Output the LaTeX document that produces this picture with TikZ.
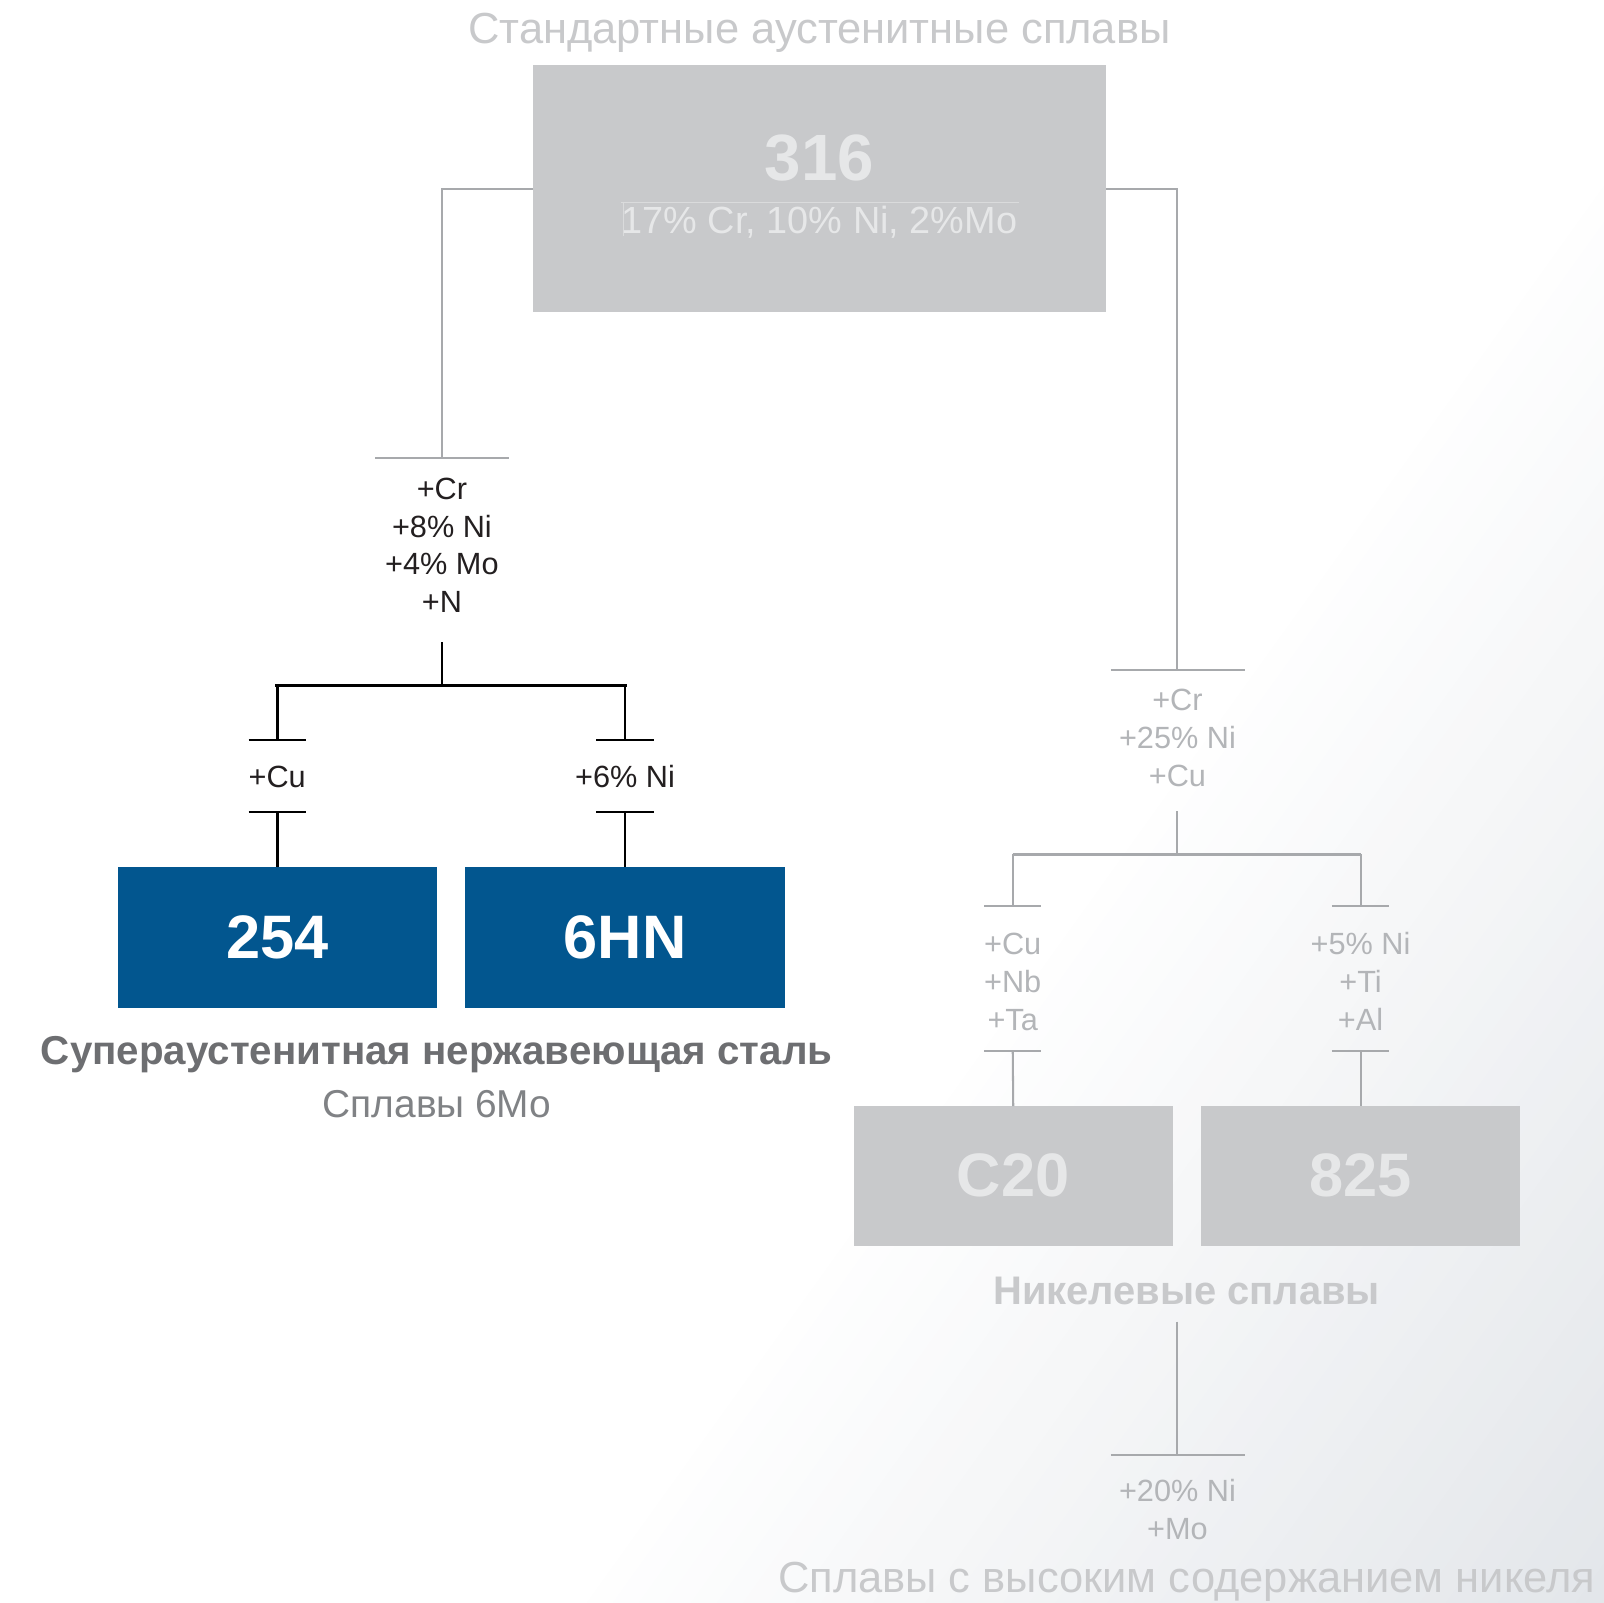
\documentclass[tikz,border=0pt]{standalone}
\usepackage{fontspec}
\setmainfont{Liberation Sans}
\definecolor{boxgray}{HTML}{C8C9CB}
\definecolor{boxtxt}{HTML}{E6E7E8}
\definecolor{blueb}{HTML}{02568F}
\definecolor{linegray}{HTML}{A7A9AC}
\definecolor{lightlab}{HTML}{B3B5B8}
\definecolor{darktxt}{HTML}{231F20}
\definecolor{capgray}{HTML}{6D6E71}
\definecolor{subgray}{HTML}{808285}
\definecolor{bgdark}{HTML}{E3E6EA}
\newcommand\mylines[1]{\begin{tabular}[t]{@{}c@{}}#1\end{tabular}}
\begin{document}
\begin{tikzpicture}[x=1pt,y=-1pt,
  gline/.style={draw=linegray, line width=2pt},
  gthick/.style={draw=linegray, line width=3pt},
  bline/.style={draw=black, line width=2.6pt},
  bthick/.style={draw=black, line width=3.6pt},
  graybox/.style={fill=boxgray, draw=none, inner sep=0pt, minimum width=312pt, minimum height=137pt},
  bluebox/.style={fill=blueb, draw=none, inner sep=0pt, minimum width=312pt, minimum height=137pt},
  boxlabel/.style={anchor=base, inner sep=0pt, font=\fontsize{60}{66}\selectfont\bfseries},
  lab/.style={anchor=base, inner sep=0pt, font=\fontsize{30}{37}\selectfont},
  darklab/.style={lab, text=darktxt},
  lightlab/.style={lab, text=lightlab},
  captext/.style={anchor=base, inner sep=0pt, font=\fontsize{42.5}{48}\selectfont}
]
% background
\begin{scope}
\clip (0,0) rectangle (1568,1567);
\fill[white] (0,0) rectangle (1568,1567);
\foreach \i in {0,...,39}{
  \pgfmathsetmacro\tval{1360+\i*20.675}
  \pgfmathsetmacro\fval{(\i+0.5)*2.5}
  \fill[bgdark!\fval!white] ({0.812*\tval+1749},{0.583*\tval-2436}) -- ({0.812*\tval-1749},{0.583*\tval+2436}) -- ++(2436,1749) -- ({0.812*\tval+1749+2436},{0.583*\tval-2436+1749}) -- cycle;
}
\end{scope}
\useasboundingbox (0,0) rectangle (1568,1567);

% top
\node[captext, text=boxgray] (title) at (801,43) {Стандартные аустенитные сплавы};
\node[fill=boxgray, inner sep=0pt, minimum width=560pt, minimum height=241pt] (b316) at (801,184.5) {};
\node[anchor=base, inner sep=0pt, text=boxtxt, font=\fontsize{64}{70}\selectfont\bfseries] (t316) at (801,176) {316};
\draw[boxtxt!60!boxgray, line width=0.8pt] (607,198) -- (996,198);
\draw[boxtxt!60!boxgray, line width=0.8pt] (609,198) -- (609,231);
\node[anchor=base, inner sep=0pt, text=boxtxt, font=\fontsize{37}{44}\selectfont] (s316) at (801,228) {17\% Cr, 10\% Ni, 2\%Mo};

% left branch
\coordinate (tL) at (432,448);
\draw[gline] (b316.west) -| (tL);
\draw[gline] (tL) ++(-65,0) -- ++(131,0);
\node[darklab] (labL) at (432,488) {\mylines{+Cr\\+8\% Ni\\+4\% Mo\\+N}};
\coordinate (jL) at (432,628);
\coordinate (hL) at (432,670);
\coordinate (hLa) at (271,670);
\coordinate (hLb) at (611,670);
\draw[bline] (jL) -- (hL);
\draw[bthick, line cap=rect] (hLa) -- (hLb);
\coordinate (t254a) at (271,723);
\coordinate (t6a) at (611,723);
\coordinate (t254b) at (271,794);
\coordinate (t6b) at (611,794);
\draw[bline] (hLa) -- (t254a);
\draw[bline] (hLb) -- (t6a);
\foreach \c in {t254a,t6a,t254b,t6b} \draw[bline, line width=2pt] (\c) ++(-28,0) -- ++(56,0);
\node[darklab] (lab254) at (271,770) {+Cu};
\node[darklab] (lab6) at (611,770) {+6\% Ni};
\node[bluebox] (b254) at (271,916.5) {};
\node[bluebox] (b6HN) at (611,916.5) {};
\draw[bline] (t254b) -- (b254.north);
\draw[bline] (t6b) -- (b6HN.north);
\node[boxlabel, text=white] (x254) at (271,937) {254};
\node[boxlabel, text=white] (x6HN) at (611,937) {6HN};
\node[captext, text=capgray, font=\fontsize{39.4}{46}\selectfont\bfseries] (capL) at (427,1041) {Супераустенитная нержавеющая сталь};
\node[captext, text=subgray, font=\fontsize{38}{46}\selectfont] (subL) at (427,1092) {Сплавы 6Mo};

% right branch
\coordinate (tR) at (1151,655);
\draw[gline] (b316.east) -| (tR);
\draw[gline] (tR) ++(-65,0) -- ++(131,0);
\node[lightlab] (labR) at (1151,695) {\mylines{+Cr\\+25\% Ni\\+Cu}};
\coordinate (jR) at (1151,793);
\coordinate (hR) at (1151,835);
\coordinate (hRa) at (990,835);
\coordinate (hRb) at (1330,835);
\draw[gline] (jR) -- (hR);
\draw[gthick] (hRa) -- (hRb);
\coordinate (tCa) at (990,886);
\coordinate (t8a) at (1330,886);
\coordinate (tCb) at (990,1027);
\coordinate (t8b) at (1330,1027);
\draw[gline] (hRa) -- (tCa);
\draw[gline] (hRb) -- (t8a);
\foreach \c in {tCa,t8a,tCb,t8b} \draw[gline] (\c) ++(-28,0) -- ++(56,0);
\node[lightlab] (labC) at (990,933) {\mylines{+Cu\\+Nb\\+Ta}};
\node[lightlab] (lab8) at (1330,933) {\mylines{+5\% Ni\\+Ti\\+Al}};
\node[graybox] (bC20) at (990.5,1150) {};
\node[graybox] (b825) at (1330,1150) {};
\draw[gline] (tCb) -- (bC20.north);
\draw[gline] (t8b) -- (b825.north);
\node[boxlabel, text=boxtxt] (xC20) at (990.5,1170) {C20};
\node[boxlabel, text=boxtxt] (x825) at (1330,1170) {825};
\node[captext, text=boxgray, font=\fontsize{39}{46}\selectfont\bfseries] (capR) at (1160,1275) {Никелевые сплавы};
\coordinate (jN) at (1151,1292);
\coordinate (tN) at (1151,1422);
\draw[gline] (jN) -- (tN);
\draw[gline] (tN) ++(-65,0) -- ++(131,0);
\node[lightlab] (labN) at (1151,1468) {\mylines{+20\% Ni\\+Mo}};
\node[captext, text=boxgray] (capN) at (1160,1557) {Сплавы с высоким содержанием никеля};
\end{tikzpicture}
\end{document}
